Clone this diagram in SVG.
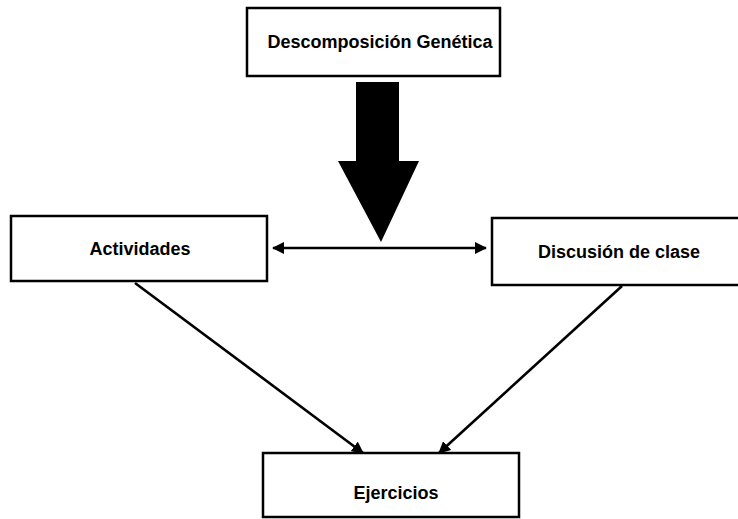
<svg xmlns="http://www.w3.org/2000/svg" width="738" height="519" viewBox="0 0 738 519">
  <style>
    .box { fill: #ffffff; stroke: #000000; stroke-width: 2.5; }
    .label { font-family: "Liberation Sans", Arial, sans-serif; font-weight: bold; font-size: 18px; fill: #000000; text-anchor: middle; }
    .link { stroke: #000000; stroke-width: 2.6; fill: none; }
  </style>
  <defs>
    <marker id="head" viewBox="0 0 12 12" refX="11" refY="6" markerWidth="12" markerHeight="12" markerUnits="userSpaceOnUse" orient="auto-start-reverse">
      <path d="M0,0 L12,6 L0,12 Z" fill="#000000"/>
    </marker>
  </defs>
  <rect width="738" height="519" fill="#ffffff"/>

  <g id="descomposicion">
    <rect class="box" x="247" y="8" width="253" height="68"/>
    <text class="label" x="380" y="48">Descomposición Genética</text>
  </g>

  <g id="actividades">
    <rect class="box" x="11" y="216" width="256" height="65"/>
    <text class="label" x="140" y="255">Actividades</text>
  </g>

  <g id="discusion">
    <rect class="box" x="492" y="218" width="250" height="67"/>
    <text class="label" x="619" y="258">Discusión de clase</text>
  </g>

  <g id="ejercicios">
    <rect class="box" x="263" y="453" width="256" height="64"/>
    <text class="label" x="396" y="499">Ejercicios</text>
  </g>

  <g id="connectors">
    <!-- broad block arrow from the top box down to the middle row -->
    <polygon points="356,82 399,82 399,161 419,161 381,242 338,161 356,161" fill="#000000"/>
    <!-- two-way link between the middle boxes -->
    <line class="link" x1="273" y1="248" x2="486" y2="248" marker-start="url(#head)" marker-end="url(#head)"/>
    <!-- links down to Ejercicios -->
    <line class="link" x1="135" y1="283" x2="363" y2="453" marker-end="url(#head)"/>
    <line class="link" x1="622" y1="286" x2="439" y2="453" marker-end="url(#head)"/>
  </g>
</svg>
